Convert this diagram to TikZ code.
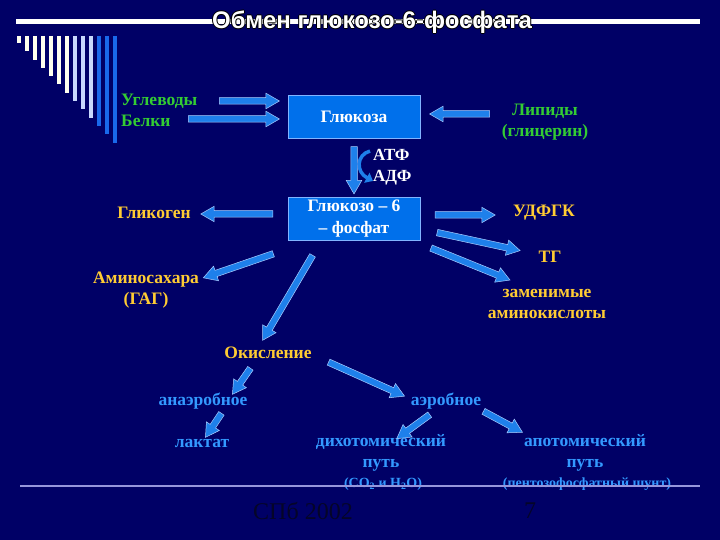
\documentclass[tikz,border=0pt]{standalone}
\usepackage{fontspec}
\setmainfont{Liberation Serif}
\newfontfamily\ttlfont{Liberation Sans}
\usepackage{tikz}
\usetikzlibrary{arrows.meta,positioning,calc,shapes.arrows}
\definecolor{cnavy}{RGB}{0,0,102}
\definecolor{cgreen}{RGB}{51,204,51}
\definecolor{cgold}{RGB}{255,204,51}
\definecolor{clblue}{RGB}{51,153,255}
\definecolor{cbox}{RGB}{0,112,235}
\definecolor{cboxedge}{RGB}{130,180,255}
\definecolor{ablue}{RGB}{30,128,235}
\definecolor{aedge}{RGB}{170,205,255}
\definecolor{cfoot}{RGB}{150,150,220}
\definecolor{cdark}{RGB}{5,5,40}
\definecolor{cbarw}{RGB}{255,255,238}
\definecolor{cbarp}{RGB}{200,216,252}
\definecolor{cbarb}{RGB}{25,105,235}
\newcommand{\ttlhalo}[1]{%
  \rlap{\textcolor{black}{\kern-1pt #1}}%
  \rlap{\textcolor{black}{\kern1pt #1}}%
  \rlap{\textcolor{black}{\raisebox{1pt}{#1}}}%
  \rlap{\textcolor{black}{\raisebox{-1pt}{#1}}}%
  #1}
\newcommand{\blk}[3]{%
  \path let \p1=(#2), \p2=(#3), \n1={atan2(\y2-\y1,\x2-\x1)},
    \n2={veclen(\x2-\x1,\y2-\y1)} in
    node[barrow, rotate=\n1, minimum height=\n2] (#1) at ($(\p1)!0.5!(\p2)$) {};}
\tikzset{
  lbl/.style={font=\bfseries\fontsize{17.5}{21}\selectfont, align=center, inner sep=0pt},
  grn/.style={lbl, text=cgreen},
  yel/.style={lbl, text=cgold},
  cyn/.style={lbl, text=clblue},
  wht/.style={lbl, text=white, font=\bfseries\fontsize{17}{20}\selectfont},
  note/.style={lbl, text=clblue, font=\bfseries\fontsize{14}{16}\selectfont},
  gbox/.style={lbl, draw=cboxedge, fill=cbox, line width=0.8pt, text=white,
    font=\bfseries\fontsize{17.5}{22}\selectfont,
    minimum width=132pt, minimum height=43pt},
  barrow/.style={single arrow, draw=aedge, fill=ablue, line width=0.5pt,
    inner sep=0pt, inner ysep=3pt, single arrow head extend=4.5pt,
    single arrow tip angle=60},
  carr/.style={ablue, line width=3.5pt, -{Triangle[length=7pt,width=11pt]}},
  ttl/.style={font=\ttlfont\bfseries\fontsize{24}{28}\selectfont, text=white, inner sep=0pt},
  foot/.style={font=\fontsize{24}{28}\selectfont, text=cdark, inner sep=0pt},
}
\begin{document}
\begin{tikzpicture}[x=1pt, y=-1pt]
  \fill[cnavy] (0,0) rectangle (720,540);
  % title bar and comb
  \draw[white, line width=5pt] (16,22) -- (700,22);
  \node[ttl] (title) at (372,22) {\ttlhalo{Обмен глюкозо-6-фосфата}};
  \foreach \i in {0,...,12} {
    \ifnum\i<7 \def\bc{cbarw}\else\ifnum\i<10 \def\bc{cbarp}\else\def\bc{cbarb}\fi\fi
    \draw[\bc, line width=3.5pt] (19+8*\i,36) -- (19+8*\i,43+8.3*\i);
  }
  % boxes
  \node[gbox] (glc) at (354,117) {Глюкоза};
  \node[gbox] (g6p) at (354,219) {Глюкозо – 6\\– фосфат};
  % sources
  \node[grn, anchor=west] (carb) at (121,101) {Углеводы};
  \node[grn, anchor=west] (prot) at (121,121) {Белки};
  \node[grn] (lip) at (545,122) {Липиды\\(глицерин)};
  \node[wht, anchor=west] (atp) at (373,155) {АТФ};
  \node[wht, anchor=west] (adp) at (373,178) {АДФ};
  % products
  \node[yel] (glyc) at (154,213) {Гликоген};
  \node[yel] (udp) at (544,213) {УДФГК};
  \node[yel] (tg) at (550,257) {ТГ};
  \node[yel] (amsug) at (146,290.5) {Аминосахара\\(ГАГ)};
  \node[yel] (amac) at (547,303.5) {заменимые\\аминокислоты};
  \node[yel] (oxid) at (268,353) {Окисление};
  \node[cyn] (anaer) at (203,401) {анаэробное};
  \node[cyn] (aer) at (446,401) {аэробное};
  \node[cyn] (lact) at (202,443) {лактат};
  \node[cyn] (dich) at (381,453) {дихотомический\\путь};
  \node[note] (dichn) at (383,484) {(CO\textsubscript{2} и H\textsubscript{2}O)};
  \node[cyn] (apot) at (585,453) {апотомический\\путь};
  \node[note] (apotn) at (587,484) {(пентозофосфатный шунт)};
  % arrows
  \blk{a1}{$(glc.west)+(-71,-16)$}{$(glc.west)+(-11,-16)$}
  \blk{a2}{$(glc.west)+(-102,2)$}{$(glc.west)+(-11,2)$}
  \blk{a3}{$(glc.east)+(72,-3)$}{$(glc.east)+(12,-3)$}
  \blk{a4}{$(glc.south)+(0,5)$}{$(g6p.north)+(0,-6)$}
  \draw[carr] ($(atp.west)+(-3,-4)$) .. controls ($(atp.west)+(-17,0)$) and ($(adp.west)+(-17,-6)$) .. ($(adp.west)+(0,3)$);
  \blk{a6}{$(g6p.west)+(-12,-5)$}{$(g6p.west)+(-84,-5)$}
  \blk{a7}{$(g6p.east)+(12,-4)$}{$(g6p.east)+(72,-4)$}
  \blk{a8}{$(g6p.east)+(14,13)$}{$(g6p.east)+(97,31)$}
  \blk{a9}{$(g6p.east)+(8,28)$}{$(g6p.east)+(87,60)$}
  \blk{a10}{$(g6p.south)+(-78,12)$}{$(g6p.south)+(-148,36)$}
  \blk{a11}{$(g6p.south)+(-40,12)$}{$(g6p.south)+(-90,97)$}
  \blk{a12}{$(oxid)+(-16,13)$}{$(oxid)+(-34,39)$}
  \blk{a13}{$(oxid)+(58,8)$}{$(oxid)+(134,42)$}
  \blk{a14}{$(anaer)+(20,10)$}{$(anaer)+(4,34)$}
  \blk{a15}{$(aer)+(-14,12)$}{$(aer)+(-47,36)$}
  \blk{a16}{$(aer)+(35,9)$}{$(aer)+(74,30)$}
  % footer
  \draw[cfoot, line width=2pt] (20,486) -- (700,486);
  \node[foot] (year) at (303,511) {СПб 2002};
  \node[foot] (page) at (530,511) {7};
\end{tikzpicture}
\end{document}
